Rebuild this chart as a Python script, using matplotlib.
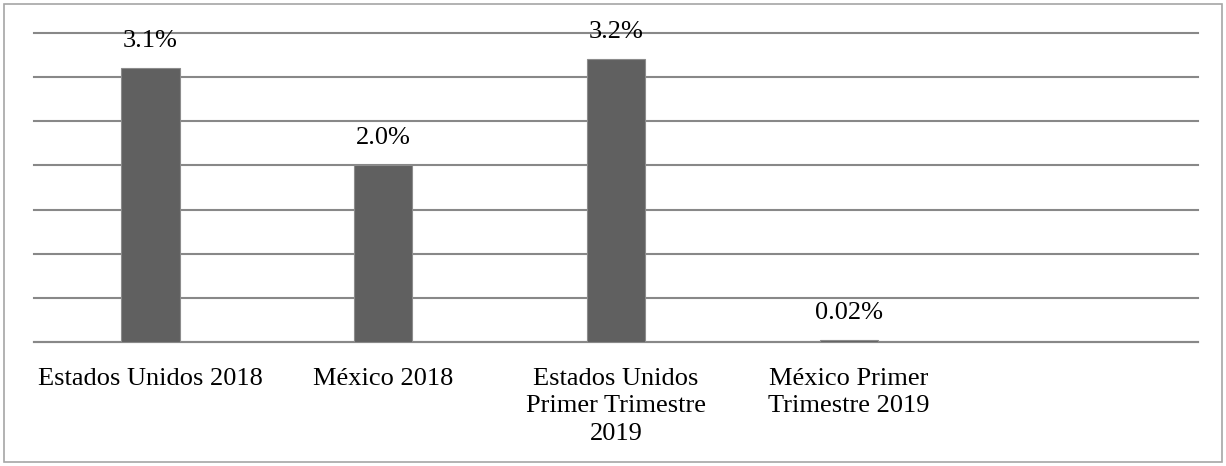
import matplotlib.pyplot as plt
from matplotlib.patches import Rectangle

categories = [
    "Estados Unidos 2018",
    "México 2018",
    "Estados Unidos\nPrimer Trimestre\n2019",
    "México Primer\nTrimestre 2019",
    "",
]
values = [3.1, 2.0, 3.2, 0.02, None]
labels = ["3.1%", "2.0%", "3.2%", "0.02%", ""]

plt.rcParams["font.family"] = ["Liberation Serif", "DejaVu Serif"]

fig = plt.figure(figsize=(12.26, 4.66), dpi=100)
ax = fig.add_axes([34 / 1226, 124 / 466, 1164 / 1226, 309 / 466])

x = list(range(len(categories)))
heights = [v if v is not None else 0 for v in values]
bars = ax.bar(x, heights, width=0.25, color="#606060",
              edgecolor="#8c8c8c", linewidth=0.8, zorder=3)

for bar, text in zip(bars, labels):
    if not text:
        continue
    ax.annotate(text, (bar.get_x() + bar.get_width() / 2, bar.get_height()),
                xytext=(0, 12), textcoords="offset points",
                ha="center", va="bottom", fontsize=19, color="#000000")

ax.set_xlim(-0.5, len(categories) - 0.5)
ax.set_ylim(0, 3.5)
ax.set_yticks([0.5 * i for i in range(8)])
ax.set_yticklabels([])
ax.tick_params(axis="y", length=0)
ax.yaxis.grid(True, color="#888888", linewidth=1.5, zorder=0)
for line in ax.get_ygridlines():
    line.set_clip_on(False)

ax.set_xticks(x)
ax.set_xticklabels(categories, fontsize=19, linespacing=1.34, va="top")
ax.tick_params(axis="x", length=0, pad=18.5)

for side in ["left", "right", "top"]:
    ax.spines[side].set_visible(False)
ax.spines["bottom"].set_color("#888888")
ax.spines["bottom"].set_linewidth(1.5)

# outer frame around the whole chart area
fig.patches.append(Rectangle((4 / 1226, 4 / 466), 1218 / 1226, 458 / 466,
                             transform=fig.transFigure, fill=False,
                             edgecolor="#a6a6a6", linewidth=1.2))

fig.savefig("out.png", dpi=100)
